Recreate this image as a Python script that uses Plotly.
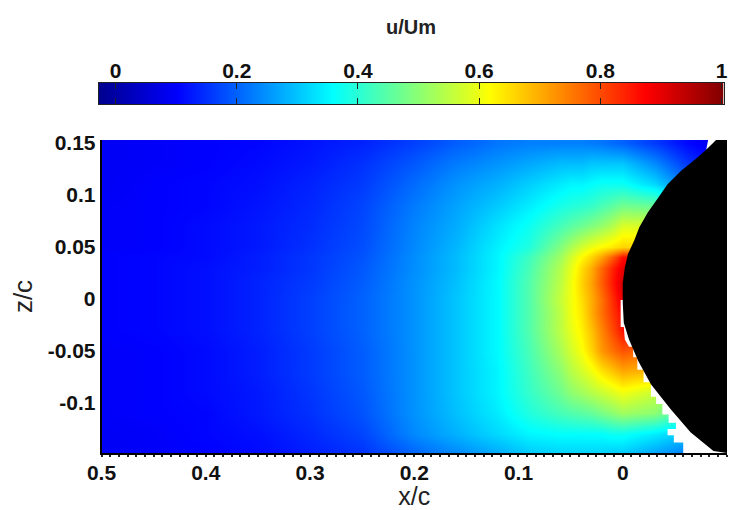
import plotly.graph_objects as go

x_c = [0.5, 0.45, 0.4, 0.35, 0.3, 0.25, 0.2, 0.16, 0.12, 0.09, 0.06, 0.05, 0.04, 0.03, 0.02, 0.01, 0, -0.03, -0.06, -0.09, -0.1]
z_c = [-0.15, -0.13, -0.11, -0.09, -0.07, -0.05, -0.03, -0.015, 0, 0.015, 0.03, 0.04, 0.05, 0.07, 0.09, 0.11, 0.13, 0.15]

u_um = [
    [.09, .095, .10, .11, .13, .15, .20, .235, .27, .30, .31, .31, .31, .31, .31, .30, .30, .26, .22, .20, .20],
    [.09, .095, .105, .115, .14, .17, .24, .28, .32, .35, .36, .36, .36, .36, .36, .37, .37, .34, .30, .30, .30],
    [.095, .10, .105, .125, .15, .185, .25, .295, .34, .39, .43, .44, .45, .46, .48, .50, .52, .50, .42, .37, .37],
    [.095, .10, .11, .125, .155, .19, .25, .30, .35, .41, .47, .50, .52, .54, .56, .58, .60, .56, .50, .50, .50],
    [.095, .10, .11, .13, .16, .195, .25, .30, .35, .42, .50, .54, .57, .60, .64, .67, .70, .68, .60, .60, .60],
    [.095, .10, .11, .13, .16, .195, .25, .30, .355, .43, .53, .57, .61, .66, .72, .76, .79, .75, .70, .70, .70],
    [.10, .105, .115, .135, .165, .20, .25, .30, .355, .44, .55, .59, .63, .68, .74, .80, .86, .86, .86, .86, .86],
    [.10, .105, .115, .135, .165, .20, .25, .30, .355, .44, .55, .60, .64, .70, .76, .82, .87, .87, .87, .87, .87],
    [.10, .105, .115, .135, .165, .20, .25, .30, .355, .44, .56, .60, .65, .70, .76, .83, .90, .90, .90, .90, .90],
    [.10, .105, .115, .135, .16, .195, .25, .295, .355, .44, .55, .60, .66, .71, .78, .85, .92, .92, .92, .92, .92],
    [.10, .105, .115, .13, .155, .19, .245, .29, .35, .43, .54, .59, .65, .70, .77, .84, .90, .90, .90, .90, .90],
    [.10, .105, .11, .13, .155, .185, .245, .29, .35, .42, .52, .57, .62, .66, .71, .78, .86, .86, .86, .86, .86],
    [.095, .10, .11, .125, .15, .18, .24, .285, .345, .39, .49, .53, .57, .60, .62, .64, .66, .66, .66, .66, .66],
    [.095, .10, .11, .125, .145, .175, .235, .275, .33, .37, .43, .45, .47, .49, .51, .54, .58, .58, .55, .50, .50],
    [.095, .10, .105, .12, .14, .17, .225, .265, .305, .34, .38, .39, .40, .41, .43, .45, .47, .46, .40, .30, .30],
    [.09, .10, .105, .115, .135, .16, .21, .25, .28, .31, .34, .35, .35, .36, .37, .37, .37, .32, .22, .15, .15],
    [.09, .095, .10, .11, .125, .15, .19, .225, .25, .27, .29, .29, .29, .30, .30, .30, .30, .24, .16, .10, .10],
    [.09, .095, .10, .105, .12, .135, .165, .195, .22, .23, .23, .23, .23, .225, .22, .21, .20, .16, .11, .08, .08],
]

body_x = [-0.090, -0.081, -0.072, -0.056, -0.043, -0.034, -0.024, -0.016, -0.011, -0.005, -0.002, 0.000, 0.000, -0.001, -0.006, -0.015, -0.027, -0.046, -0.065, -0.087, -0.1, -0.1]
body_z = [0.153, 0.144, 0.136, 0.123, 0.110, 0.097, 0.083, 0.069, 0.056, 0.043, 0.030, 0.015, -0.004, -0.023, -0.039, -0.060, -0.082, -0.106, -0.128, -0.146, -0.148, 0.153]

gap_x = [0.002, 0.002, -0.001, -0.002, -0.006, -0.010, -0.010, -0.014, -0.014, -0.020, -0.020, -0.027, -0.027, -0.032, -0.032, -0.038, -0.038, -0.044, -0.044, -0.051, -0.051, -0.043, -0.043, -0.049, -0.049, -0.058, -0.058, -0.1, -0.1, None, -0.082, -0.092, -0.080]
gap_z = [-0.001, -0.027, -0.027, -0.039, -0.046, -0.046, -0.056, -0.056, -0.068, -0.068, -0.080, -0.080, -0.094, -0.094, -0.101, -0.101, -0.111, -0.111, -0.119, -0.119, -0.125, -0.125, -0.131, -0.131, -0.138, -0.138, -0.148, -0.148, -0.001, None, 0.153, 0.153, 0.143]

scale_levels = [-0.028, 0.1, 0.2, 0.3, 0.357, 0.4, 0.5, 0.6, 0.615, 0.7, 0.8, 0.871, 0.95, 1.003]
x_ticks = [0.5, 0.4, 0.3, 0.2, 0.1, 0, -0.1]
x_labels = ["0.5", "0.4", "0.3", "0.2", "0.1", "0", "-0.1\u00a0\u00a0"]
z_ticks = [0.15, 0.1, 0.05, 0, -0.05, -0.1]
z_labels = ["0.15", "0.1", "0.05", "0", "-0.05", "-0.1"]
scale_ticks = [0, 0.2, 0.4, 0.6, 0.8, 1]
scale_labels = ["0", "0.2", "0.4", "0.6", "0.8", "1"]

jet = [
    [0, "rgb(0,0,143)"], [0.125, "rgb(0,0,255)"], [0.375, "rgb(0,255,255)"],
    [0.625, "rgb(255,255,0)"], [0.875, "rgb(255,0,0)"], [1, "rgb(128,0,0)"],
]

# The page body offsets the figure by 8px, so domains are computed from window pixels minus that offset.
W, H = 732, 502
OFF = 8
FONT = "Liberation Sans"
tick_font = dict(family=FONT, size=21, color="#111111", weight="bold")


def xd(a, b):
    return [(a - OFF) / W, (b - OFF) / W]


def yd(top, bottom):
    return [1 - (bottom - OFF) / H, 1 - (top - OFF) / H]


fig = go.Figure()
fig.add_trace(go.Heatmap(x=x_c, y=z_c, z=u_um, coloraxis="coloraxis", zsmooth="best", hoverongaps=False))
fig.add_trace(go.Scatter(x=gap_x, y=gap_z, fill="toself", mode="none", fillcolor="white", showlegend=False))
fig.add_trace(go.Scatter(x=body_x, y=body_z, fill="toself", mode="none", fillcolor="black", showlegend=False))
fig.add_trace(go.Heatmap(x=scale_levels, y=[0, 1], z=[scale_levels, scale_levels], coloraxis="coloraxis",
                         zsmooth="best", xaxis="x2", yaxis="y2"))

fig.update_layout(
    width=W, height=H, autosize=False,
    margin=dict(l=0, r=0, t=0, b=0),
    paper_bgcolor="white", plot_bgcolor="white", showlegend=False,
    coloraxis=dict(colorscale=jet, cmin=-0.028, cmax=1.003, showscale=False),
    xaxis=dict(domain=xd(101.5, 727), range=[0.5, -0.1], anchor="y", automargin=False,
               tickmode="array", tickvals=x_ticks, ticktext=x_labels, tickfont=tick_font,
               ticks="", showgrid=False, zeroline=False, showline=True, linecolor="black", linewidth=1.5,
               minor=dict(ticks="outside", dtick=0.00833, tick0=0.5, ticklen=2, tickwidth=1.5, tickcolor="#222222", showgrid=False),
               title=dict(text="x/c", font=dict(family=FONT, size=25, color="#222222"), standoff=8)),
    yaxis=dict(domain=yd(140, 453), range=[-0.148, 0.1525], anchor="x", automargin=False,
               tickmode="array", tickvals=z_ticks, ticktext=z_labels, tickfont=tick_font,
               ticks="", showgrid=False, zeroline=False, showline=True, linecolor="black", linewidth=1.5,
               title=dict(text="z/c", font=dict(family=FONT, size=26, color="#222222"), standoff=14)),
    xaxis2=dict(domain=xd(98.5, 723.5), range=[-0.028, 1.003], anchor="y2", side="top", automargin=False,
                tickmode="array", tickvals=scale_ticks, ticktext=scale_labels, tickfont=tick_font,
                ticklabelstandoff=-4,
                ticks="inside", ticklen=6, tickwidth=1, tickcolor="#222222", mirror="ticks",
                showgrid=False, zeroline=False, showline=True, linecolor="#222222", linewidth=1,
                title=dict(text="u/Um", font=dict(family=FONT, size=20, color="#222222", weight="bold"), standoff=18)),
    yaxis2=dict(domain=yd(83, 104), range=[0, 1], anchor="x2", automargin=False,
                showticklabels=False, ticks="", showgrid=False, zeroline=False,
                showline=True, mirror=True, linecolor="#222222", linewidth=1),
)

fig.write_html("out.html")
